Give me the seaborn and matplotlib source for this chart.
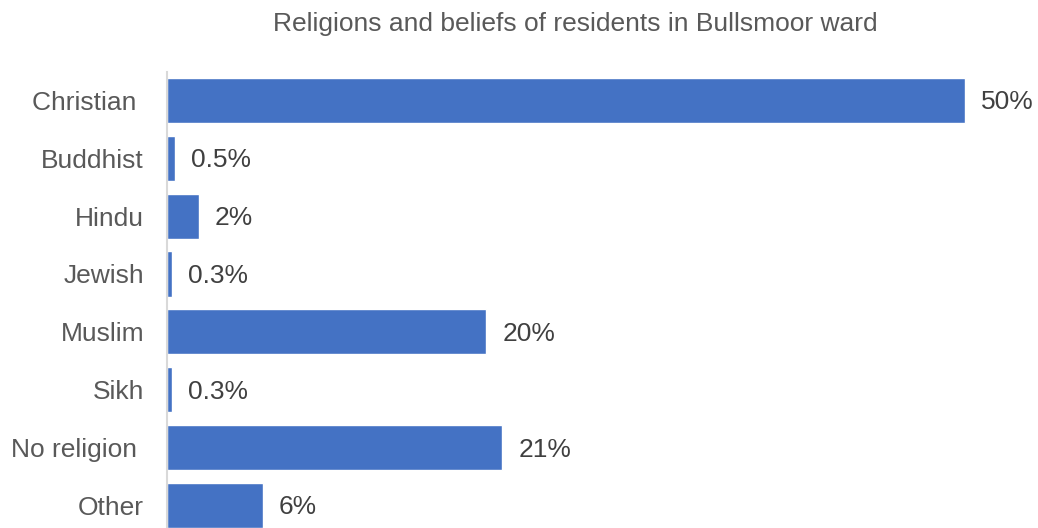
import matplotlib
matplotlib.use("Agg")
import matplotlib.pyplot as plt
import seaborn as sns
import pandas as pd

# Share of residents by religion or belief (%)
categories = ["Christian ", "Buddhist", "Hindu", "Jewish", "Muslim", "Sikh", "No religion ", "Other"]
values = [50, 0.5, 2, 0.3, 20, 0.3, 21, 6]
value_labels = ["50%", "0.5%", "2%", "0.3%", "20%", "0.3%", "21%", "6%"]

title = "Religions and beliefs of residents in Bullsmoor ward"

sns.set_theme(style="white")
plt.rcParams["font.family"] = ["Liberation Sans", "DejaVu Sans"]

text_color = "#595959"
bar_color = "#4472C4"

df = pd.DataFrame({"religion": categories, "share": values})

fig = plt.figure(figsize=(10.38, 5.28), dpi=100)
ax = fig.add_axes([167 / 1038, 0.0, 871 / 1038, 456 / 528])

sns.barplot(data=df, x="share", y="religion", orient="h", color=bar_color,
            saturation=1, width=0.78, ax=ax)

# value labels just past the end of each bar
for patch, lab in zip(ax.patches, value_labels):
    ax.annotate(lab, xy=(patch.get_width(), patch.get_y() + patch.get_height() / 2),
                xytext=(16, -2), textcoords="offset pixels",
                va="center", ha="left", fontsize=19, color="#404040")

ax.set_xlim(0, 871 / 15.96)
ax.set_ylim(7.39, -0.49)
ax.set_xlabel("")
ax.set_ylabel("")
ax.set_xticks([])
ax.tick_params(axis="y", length=0, pad=16.5, labelsize=19, labelcolor=text_color)

for side in ["top", "right", "bottom"]:
    ax.spines[side].set_visible(False)
ax.spines["left"].set_color("#D9D9D9")
ax.spines["left"].set_linewidth(1.5)

fig.text(575 / 1038, 1 - 24 / 528, title, ha="center", va="center",
         fontsize=19, color=text_color)

fig.savefig("out.png", dpi=100)
